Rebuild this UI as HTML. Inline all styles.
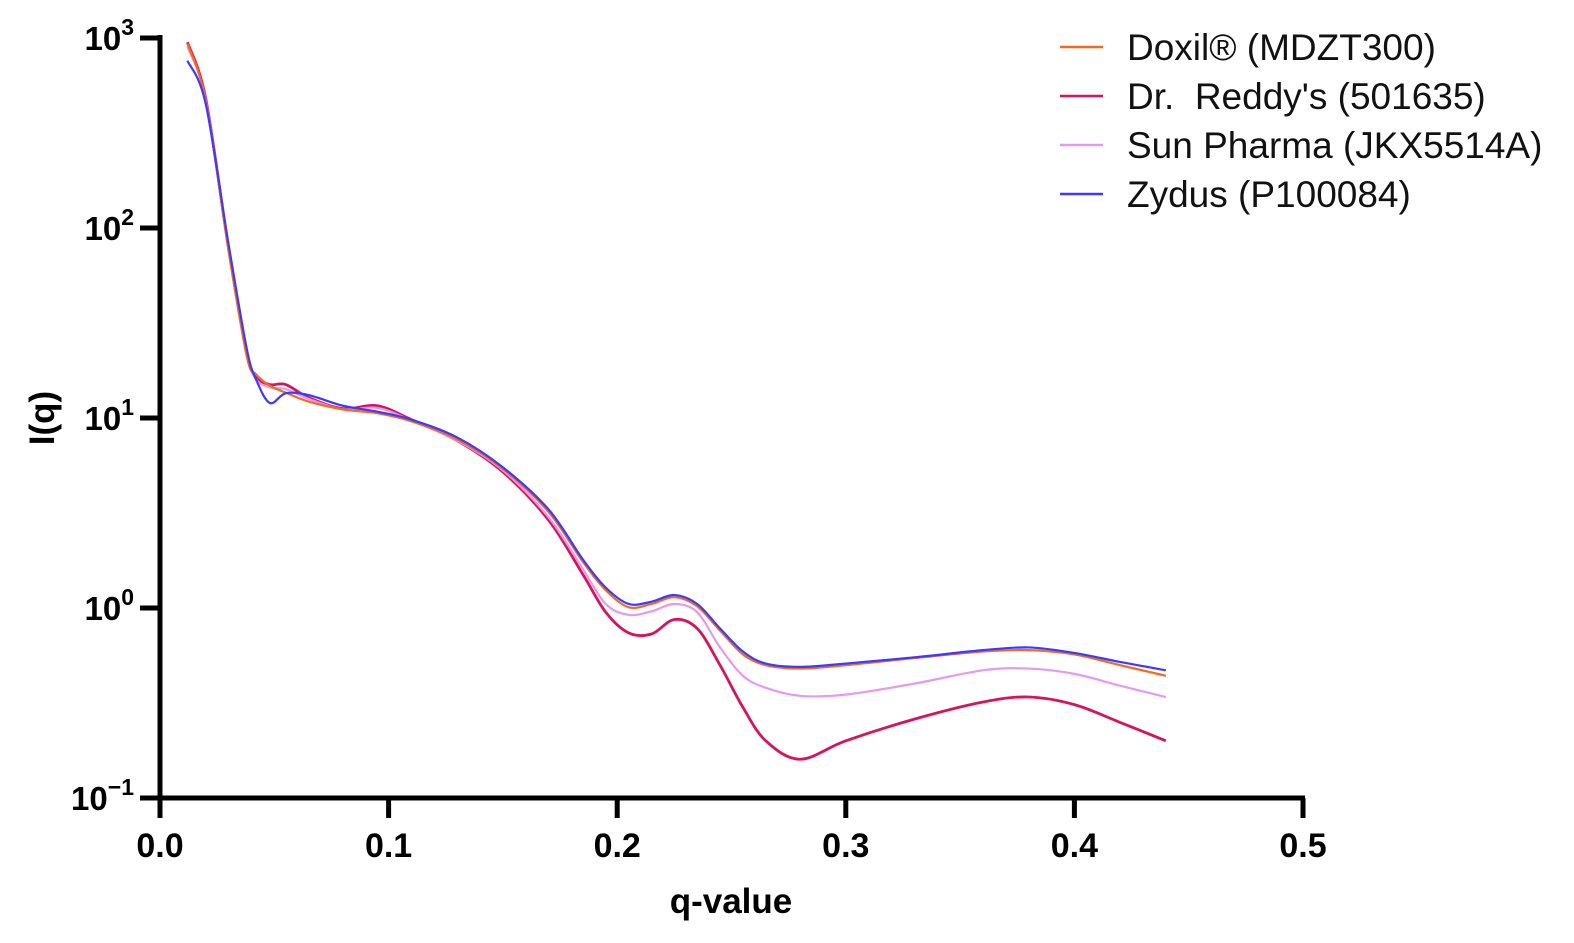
<!DOCTYPE html>
<html><head><meta charset="utf-8"><style>
html,body{margin:0;padding:0;background:#fff;}
svg{display:block;font-family:"Liberation Sans",Arial,sans-serif;}
</style></head><body>
<svg id="chart" width="1574" height="943" viewBox="0 0 1574 943" xmlns="http://www.w3.org/2000/svg">
<g id="axes"></g>
<g id="series"></g>
<g id="legend"></g>
</svg>
<script>
const qValues=[0.012,0.02,0.03,0.038,0.042,0.048,0.055,0.065,0.08,0.095,0.11,0.13,0.15,0.17,0.185,0.195,0.205,0.215,0.225,0.235,0.245,0.255,0.265,0.28,0.30,0.33,0.36,0.38,0.40,0.42,0.44];
const doxil=[935,470,76,21,17,14.8,13.6,12.2,11.1,10.6,9.6,7.7,5.4,3.2,1.75,1.24,1.01,1.05,1.14,1.02,0.76,0.57,0.50,0.48,0.50,0.545,0.59,0.6,0.57,0.5,0.44];
const reddy=[950,480,78,22,16.5,15,15,12.8,11.2,11.6,9.8,7.6,5.2,2.9,1.5,0.95,0.74,0.73,0.87,0.78,0.5,0.3,0.2,0.16,0.2,0.26,0.32,0.34,0.31,0.25,0.2];
const sun=[900,470,78,22,16,14.5,14.2,12.6,11.1,11.3,9.7,7.6,5.3,3.0,1.6,1.05,0.92,0.96,1.05,0.95,0.62,0.44,0.38,0.345,0.35,0.4,0.47,0.48,0.45,0.39,0.34];
const zydus=[760,450,82,23,16,12,13.5,13.2,11.6,10.8,9.8,7.9,5.5,3.3,1.8,1.28,1.05,1.08,1.17,1.05,0.78,0.59,0.51,0.49,0.51,0.55,0.6,0.62,0.58,0.52,0.47];
const seriesNames=["Doxil® (MDZT300)","Dr.  Reddy's (501635)","Sun Pharma (JKX5514A)","Zydus (P100084)"];
const xTicks=[0.0,0.1,0.2,0.3,0.4,0.5];
const xTickLabels=["0.0","0.1","0.2","0.3","0.4","0.5"];
const yExps=[3,2,1,0,-1];

const NS="http://www.w3.org/2000/svg";
const X0=160,X1=1303,Y0=608,DEC=190;
function xs(q){return X0+q/0.5*(X1-X0);}
function ys(v){return Y0-Math.log10(v)*DEC;}
function mk(t,a,p){const e=document.createElementNS(NS,t);for(const k in a)e.setAttribute(k,a[k]);p.appendChild(e);return e;}

const axes=document.getElementById('axes');
let e=mk('line',{x1:X0,y1:35,x2:X0,y2:801,stroke:'#000','stroke-width':5},axes);


e=mk('line',{x1:X0-2,y1:798,x2:X1+2,y2:798,stroke:'#000','stroke-width':5},axes);


yExps.forEach(p=>{
  const y=ys(Math.pow(10,p));
  let t=mk('line',{x1:X0-20,y1:y,x2:X0,y2:y,stroke:'#000','stroke-width':5},axes);
  
  
  let tx=mk('text',{x:X0-26,y:y+12,'text-anchor':'end','font-size':33,'font-weight':'bold'},axes);
  
  
  tx.innerHTML='10<tspan dy="-15" font-size="23">'+(p<0?'\u2212'+(-p):p)+'</tspan>';
});
xTicks.forEach((q,i)=>{
  const x=xs(q);
  let t=mk('line',{x1:x,y1:798,x2:x,y2:818,stroke:'#000','stroke-width':5},axes);
  
  
  let tx=mk('text',{x:x,y:857,'text-anchor':'middle','font-size':34,'font-weight':'bold'},axes);
  
  
  tx.textContent=xTickLabels[i];
});
e=mk('text',{x:731,y:913,'text-anchor':'middle','font-size':35,'font-weight':'bold'},axes);


e.textContent='q-value';
e=mk('text',{x:0,y:0,'text-anchor':'middle','font-size':35,'font-weight':'bold',transform:'translate(54,418) rotate(-90)'},axes);


e.textContent='I(q)';

function pathFor(vals){
  const pts=qValues.map((q,i)=>[xs(q),ys(vals[i])]);
  let d='M'+pts[0][0]+','+pts[0][1];
  for(let i=0;i<pts.length-1;i++){
    const p0=pts[Math.max(0,i-1)],p1=pts[i],p2=pts[i+1],p3=pts[Math.min(pts.length-1,i+2)];
    const c1=[p1[0]+(p2[0]-p0[0])/6,p1[1]+(p2[1]-p0[1])/6];
    const c2=[p2[0]-(p3[0]-p1[0])/6,p2[1]-(p3[1]-p1[1])/6];
    d+=' C'+c1+' '+c2+' '+p2;
  }
  return d;
}
const sg=document.getElementById('series');
const allSeries=[reddy,sun,doxil,zydus];
const cols=['#d6145e','#e49af0','#f26a21','#3b3bff'];
const sNames=['series-dr-reddys','series-sun-pharma','series-doxil','series-zydus'];
allSeries.forEach((v,i)=>{
  const p=mk('path',{d:pathFor(v),fill:'none',stroke:cols[i],'stroke-width':i===0?2.8:2.2},sg);
  
  
});

const lg=document.getElementById('legend');
const legCols=['#f26a21','#d6145e','#e49af0','#3b3bff'];
seriesNames.forEach((n,i)=>{
  const y=47+i*49;
  const l=mk('line',{x1:1060,y1:y,x2:1103,y2:y,stroke:legCols[i],'stroke-width':2.5},lg);
  
  
  const t=mk('text',{x:1127,y:y+13,'font-size':37,fill:'#111'},lg);
  
  
  t.setAttribute('xml:space','preserve');
  t.style.whiteSpace='pre';
  t.textContent=n;
});
</script>
</body></html>
